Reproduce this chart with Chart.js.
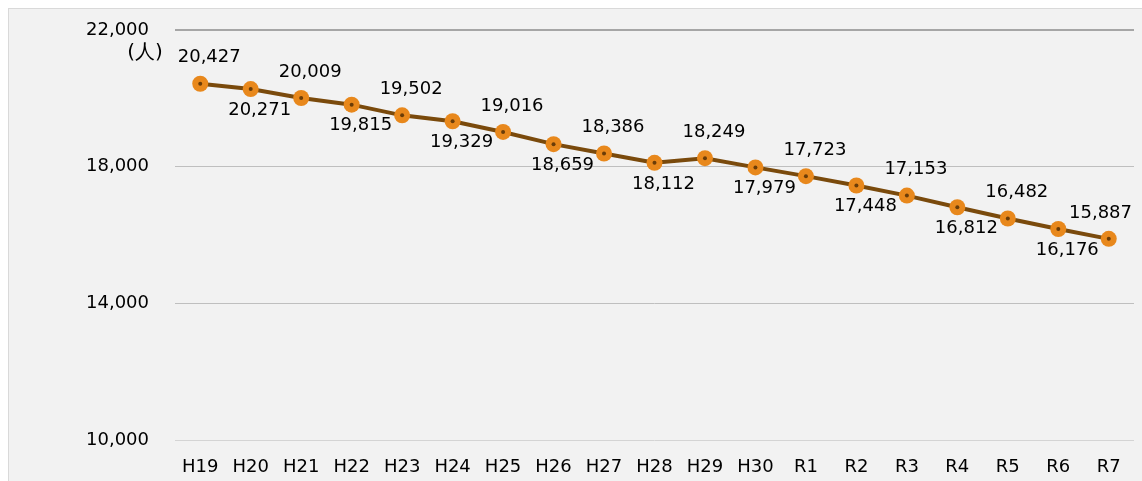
<!doctype html>
<html lang="ja">
<head>
<meta charset="utf-8">
<title>人口の推移</title>
<script src="https://cdn.jsdelivr.net/npm/chart.js@4.4.1/dist/chart.umd.min.js"></script>
<style>
  html,body{margin:0;padding:0;background:#fff}
  .frame{position:absolute;left:8px;top:8px;width:1140px;height:480px;background:#f2f2f2;border-left:1px solid #d9d9d9;border-top:1px solid #d9d9d9}
  .wrap{position:absolute;left:0;top:0;width:1142px;height:481px}
</style>
</head>
<body>
<div class="frame"></div>
<div class="wrap"><canvas id="chart" width="1142" height="481"></canvas></div>
<script>
// years (平成19年〜令和7年) and population
const years = ['H19','H20','H21','H22','H23','H24','H25','H26','H27','H28','H29','H30','R1','R2','R3','R4','R5','R6','R7'];
const population = [20427,20271,20009,19815,19502,19329,19016,18659,18386,18112,18249,17979,17723,17448,17153,16812,16482,16176,15887];
const yTicks = [10000,14000,18000,22000];
const unitLabel = '(人)';

const FAMILY = '"DejaVu Sans", sans-serif';
const FONT = '18px ' + FAMILY;

// value labels, alternating above / below each point
const valueLabels = {
  id: 'valueLabels',
  afterDatasetsDraw(chart){
    const ctx = chart.ctx;
    const pts = chart.getDatasetMeta(0).data;
    ctx.save();
    ctx.font = FONT;
    ctx.fillStyle = '#000';
    ctx.textBaseline = 'middle';
    ctx.textAlign = 'center';
    pts.forEach((p, i) => {
      const txt = population[i].toLocaleString('en-US');
      const w = ctx.measureText(txt).width;
      let x = p.x + 9;
      if (x + w / 2 > chart.width - 10) x = chart.width - 10 - w / 2;
      const y = i % 2 === 0 ? p.y - 26 : p.y + 21;
      ctx.fillText(txt, x, y);
    });
    // unit
    ctx.font = '20px ' + FAMILY;
    ctx.fillText(unitLabel, 145, 53);
    ctx.restore();
  }
};

new Chart(document.getElementById('chart'), {
  type: 'line',
  data: {
    labels: years,
    datasets: [{
      data: population,
      order: 1,
      borderColor: '#7a4a0c',
      borderWidth: 4,
      pointRadius: 8,
      pointHoverRadius: 8,
      pointBackgroundColor: '#e8881c',
      pointBorderColor: '#e8881c',
      pointBorderWidth: 0,
      tension: 0
    }, {
      // dark centre of each marker
      data: population,
      order: 0,
      showLine: false,
      pointRadius: 2,
      pointHoverRadius: 2,
      pointBackgroundColor: '#6a3c08',
      pointBorderWidth: 0
    }]
  },
  options: {
    responsive: false,
    animation: false,
    layout: { padding: { left: 0, right: 5, top: 30, bottom: 0 } },
    plugins: { legend: { display: false }, tooltip: { enabled: false } },
    scales: {
      x: {
        offset: true,
        grid: { display: false, drawTicks: false },
        border: { display: false },
        ticks: { color: '#000', font: { family: FAMILY, size: 18 }, padding: 17, maxRotation: 0, autoSkip: false },
        afterFit(s){ s.height = 41; }
      },
      y: {
        min: 10000, max: 22000,
        afterBuildTicks(s){ s.ticks = yTicks.map(v => ({ value: v })); },
        grid: {
          drawTicks: false,
          color: c => c.tick && c.tick.value === 22000 ? '#a6a6a6' : (c.tick && c.tick.value === 10000 ? '#d4d4d4' : '#bfbfbf'),
          lineWidth: c => c.tick && c.tick.value === 22000 ? 2 : 1
        },
        border: { display: false },
        ticks: {
          color: '#000',
          font: { family: FAMILY, size: 18 },
          padding: 26,
          callback: v => v.toLocaleString('en-US')
        },
        afterFit(s){ s.width = 175; s.paddingTop = 0; s.paddingBottom = 0; }
      }
    }
  },
  plugins: [valueLabels]
});
</script>
</body>
</html>
